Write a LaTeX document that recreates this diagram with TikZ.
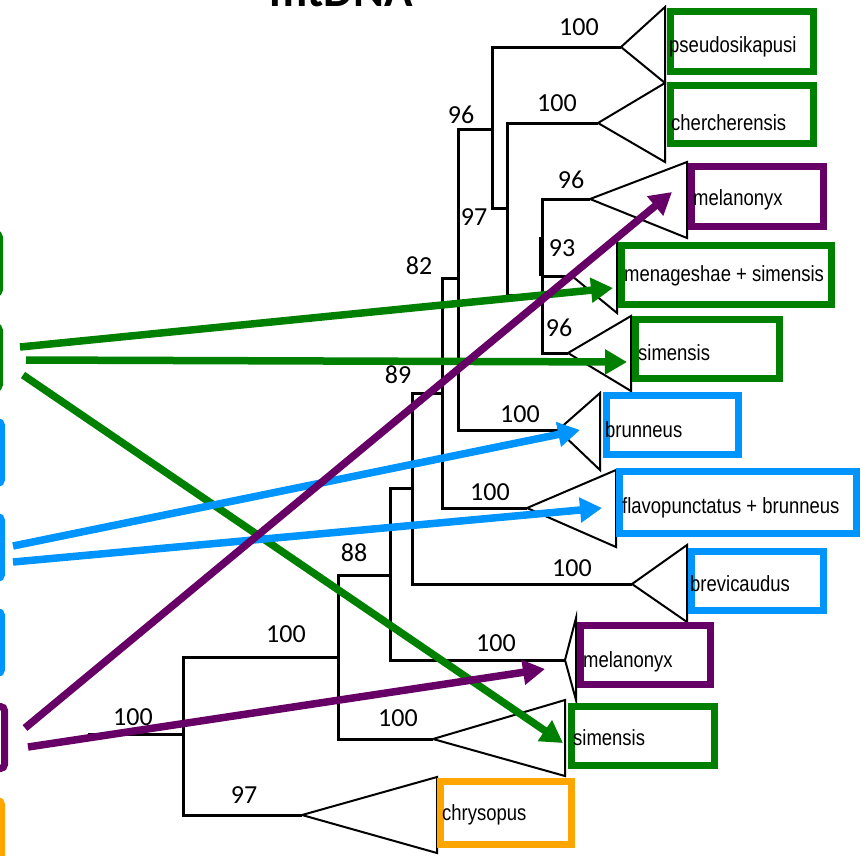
\documentclass[tikz,border=0pt]{standalone}
\usepackage{fontspec}
\setmainfont{Carlito}
\newfontfamily\taxonfont[FakeStretch=0.84]{Liberation Sans}
\usepackage{tikz}
\usetikzlibrary{arrows.meta,positioning,calc}
\definecolor{cladegreen}{RGB}{0,128,0}
\definecolor{cladeblue}{RGB}{0,148,255}
\definecolor{cladepurple}{RGB}{102,0,102}
\definecolor{cladeorange}{RGB}{255,165,0}
\tikzset{
  % Tree branches and collapsed clades
  branch/.style={draw, line width=3pt},
  clade/.style={draw, line width=2pt, line join=miter},
  % Bootstrap support value
  support/.style={font=\fontsize{26}{28}\selectfont, inner sep=0pt},
  % Taxon box: coloured frame, taxon name set beside it
  taxbox/.style={draw, rectangle, line width=7pt, inner sep=0pt},
  gbox/.style={taxbox, draw=cladegreen},
  bbox/.style={taxbox, draw=cladeblue},
  pbox/.style={taxbox, draw=cladepurple},
  obox/.style={taxbox, draw=cladeorange},
  taxname/.style={font=\taxonfont\fontsize{22}{25}\selectfont, inner sep=0pt, anchor=west},
  % Edges of the cropped boxes at the left border
  sidebar/.style={line width=7pt, rounded corners=4pt},
  % Mapping arrows
  maparr/.style={-{Triangle[length=22pt, width=24pt]}, line width=7.5pt},
  titletext/.style={font=\bfseries\fontsize{47}{50}\selectfont, inner sep=0pt}
}
\begin{document}
\begin{tikzpicture}[x=1pt, y=-1pt]
\useasboundingbox (0,0) rectangle (866,855);

% ============== Title (cropped at the top) ==============
\node[titletext, anchor=base] (title) at (341,6) {mtDNA};

% ============== Left: edges of the cropped boxes ==============
\draw[sidebar, cladegreen]  (-60,233.5) rectangle (-0.5,293.5);
\draw[sidebar, cladegreen]  (-60,326.5) rectangle (-0.5,388.5);
\draw[sidebar, cladeblue]   (-60,421.5) rectangle (1.5,483.5);
\draw[sidebar, cladeblue]   (-60,516.5) rectangle (1.5,578.5);
\draw[sidebar, cladeblue]   (-60,611.5) rectangle (1.5,673.5);
\draw[sidebar, cladepurple] (-60,706.5) rectangle (4.5,768.5);
\draw[sidebar, cladeorange] (-60,800.5) rectangle (1.5,862.5);

% ============== Tree: internal nodes and clade apexes ==============
\coordinate (root) at (88,734);
\coordinate (nA) at (183,734);
\coordinate (nB) at (338,657);
\coordinate (nC) at (390,575);
\coordinate (nD) at (412,488);
\coordinate (nE) at (442,393);
\coordinate (nF) at (458,278);
\coordinate (nG) at (492,129);
\coordinate (nH) at (507,208);
\coordinate (nI) at (542,295);

\coordinate (aPseudo) at (621,47);
\coordinate (aCher) at (598,123);
\coordinate (aMelU) at (590,199);
\coordinate (aMen) at (572,276);
\coordinate (aSimU) at (568,353);
\coordinate (aBrun) at (558,430);
\coordinate (aFlavo) at (527,508);
\coordinate (aBrev) at (632,584);
\coordinate (aMelL) at (565,660);
\coordinate (aSimL) at (433,739);
\coordinate (aChrys) at (302,815);

% branches
\draw[branch] (root) -- (nA);
\draw[branch] (nA) |- (nB);
\draw[branch] (nA) |- (aChrys);
\draw[branch] (nB) |- (nC);
\draw[branch] (nB) |- (aSimL);
\draw[branch] (nC) |- (nD);
\draw[branch] (nC) |- (aMelL);
\draw[branch] (nD) |- (nE);
\draw[branch] (nD) |- (aBrev);
\draw[branch] (nE) |- (nF);
\draw[branch] (nE) |- (aFlavo);
\draw[branch] (nF) |- (nG);
\draw[branch] (nF) |- (aBrun);
\draw[branch] (nG) |- (aPseudo);
\draw[branch] (nG) |- (nH);
\draw[branch] (nH) |- (aCher);
\draw[branch] (nH) |- (nI);
\draw[branch] (nI) |- (aMelU);
\draw[branch] (nI) |- (aMen);
\draw[branch] (nI) |- (aSimU);
\draw[branch, line width=4.5pt] (541,237) -- (541,276);

% collapsed clades
\draw[clade] (aPseudo) -- ++(44,-40) -- ++(0,76) -- cycle;
\draw[clade] (aCher)   -- ++(67,-40) -- ++(0,79) -- cycle;
\draw[clade] (aMelU)   -- ++(97,-37) -- ++(0,76) -- cycle;
\draw[clade] (aMen)    -- ++(45,-36) -- ++(0,73) -- cycle;
\draw[clade] (aSimU)   -- ++(63,-37) -- ++(0,75) -- cycle;
\draw[clade] (aBrun)   -- ++(42,-37) -- ++(0,77) -- cycle;
\draw[clade] (aFlavo)  -- ++(89,-38) -- ++(0,77) -- cycle;
\draw[clade] (aBrev)   -- ++(55,-39) -- ++(0,77) -- cycle;
\draw[clade] (aMelL)   -- ++(11,-42) -- ++(0,82) -- cycle;
\draw[clade] (aSimL)   -- ++(132,-39) -- ++(0,76) -- cycle;
\draw[clade] (aChrys)  -- ++(135,-38) -- ++(0,76) -- cycle;

% ============== Support values ==============
\node[support] (sPseudo) at (579,27)  {100};
\node[support] (sG)      at (461,115) {96};
\node[support] (sCher)   at (557,103) {100};
\node[support] (sH)      at (474,217) {97};
\node[support] (sMelU)   at (571,180) {96};
\node[support] (sMen)    at (562,248) {93};
\node[support] (sF)      at (419,266) {82};
\node[support] (sSimU)   at (559,328) {96};
\node[support] (sE)      at (398,375) {89};
\node[support] (sBrun)   at (520,414) {100};
\node[support] (sFlavo)  at (490,492) {100};
\node[support] (sC)      at (354,553) {88};
\node[support] (sBrev)   at (572,568) {100};
\node[support] (sB)      at (286,634) {100};
\node[support] (sMelL)   at (496,643) {100};
\node[support] (sRoot)   at (133,717) {100};
\node[support] (sSimL)   at (398,718) {100};
\node[support] (sChrys)  at (244,795) {97};

% ============== Taxon boxes ==============
\node[gbox, minimum width=143pt, minimum height=60pt] (bxPseudo) at (742,41.5)  {};
\node[gbox, minimum width=143pt, minimum height=58pt] (bxCher)   at (742,114.5) {};
\node[pbox, minimum width=132pt, minimum height=60pt] (bxMelU)   at (757.5,196.5) {};
\node[gbox, minimum width=210pt, minimum height=59pt] (bxMen)    at (726.5,275) {};
\node[gbox, minimum width=144pt, minimum height=59pt] (bxSimU)   at (707.5,349) {};
\node[bbox, minimum width=132pt, minimum height=59pt] (bxBrun)   at (672.5,425) {};
\node[bbox, minimum width=237pt, minimum height=62pt] (bxFlavo)  at (738,502.5) {};
\node[bbox, minimum width=132pt, minimum height=59pt] (bxBrev)   at (757.5,581) {};
\node[pbox, minimum width=130pt, minimum height=59pt] (bxMelL)   at (645.5,655) {};
\node[gbox, minimum width=143pt, minimum height=59pt] (bxSimL)   at (643,736) {};
\node[obox, minimum width=131pt, minimum height=63pt] (bxChrys)  at (506,813) {};

\node[taxname] (tPseudo) at (669,47)  {pseudosikapusi};
\node[taxname] (tCher)   at (671,123) {chercherensis};
\node[taxname] (tMelU)   at (693,200) {melanonyx};
\node[taxname] (tMen)    at (624,276) {menageshae + simensis};
\node[taxname] (tSimU)   at (638,353) {simensis};
\node[taxname] (tBrun)   at (605,430) {brunneus};
\node[taxname] (tFlavo)  at (622,508) {flavopunctatus + brunneus};
\node[taxname] (tBrev)   at (690,584) {brevicaudus};
\node[taxname] (tMelL)   at (583,662) {melanonyx};
\node[taxname] (tSimL)   at (573,738) {simensis};
\node[taxname] (tChrys)  at (442,815) {chrysopus};

% ============== Mapping arrows from the left boxes ==============
\coordinate (gStartA) at (20,347);
\coordinate (gStartB) at (26,360);
\coordinate (gStartC) at (23,375);
\coordinate (bStartA) at (13,546);
\coordinate (bStartB) at (13,562);
\coordinate (pStartA) at (25,728);
\coordinate (pStartB) at (28,747);

\coordinate (gTipA) at (613,288);
\coordinate (gTipB) at (627,362);
\coordinate (gTipC) at (563,743);
\coordinate (bTipA) at (580,430);
\coordinate (bTipB) at (602,508);
\coordinate (pTipA) at (672,192);
\coordinate (pTipB) at (545,669);

\draw[maparr, cladegreen]  (gStartA) -- (gTipA);
\draw[maparr, cladegreen]  (gStartB) -- (gTipB);
\draw[maparr, cladegreen]  (gStartC) -- (gTipC);
\draw[maparr, cladeblue]   (bStartA) -- (bTipA);
\draw[maparr, cladeblue]   (bStartB) -- (bTipB);
\draw[maparr, cladepurple] (pStartA) -- (pTipA);
\draw[maparr, cladepurple] (pStartB) -- (pTipB);

\end{tikzpicture}
\end{document}
